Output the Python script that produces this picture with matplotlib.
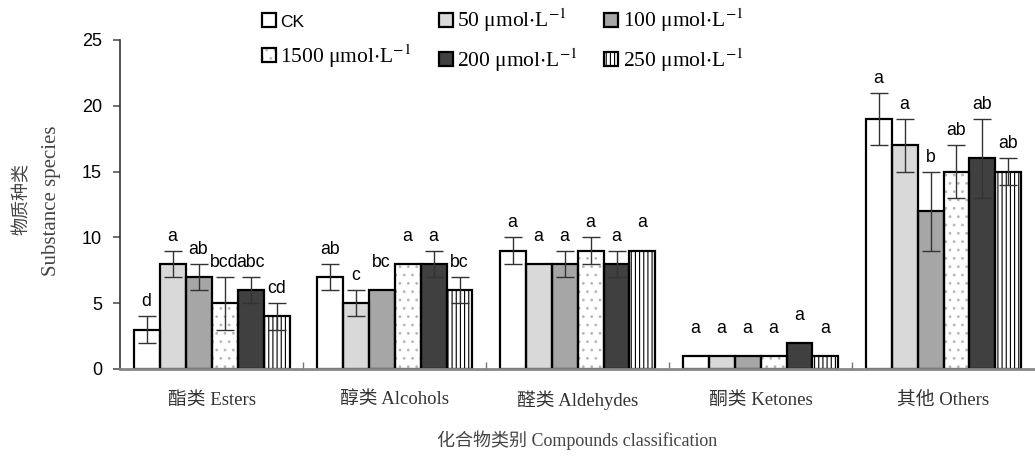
import numpy as np
import matplotlib
matplotlib.use("Agg")
import matplotlib.pyplot as plt
from matplotlib.legend_handler import HandlerTuple

plt.rcParams.update({
    "font.family": ["Liberation Serif", "Noto Sans CJK SC"],
    "mathtext.fontset": "stix",
    "hatch.linewidth": 0.8,
})

# data
categories = ["酯类 Esters", "醇类 Alcohols", "醛类 Aldehydes", "酮类 Ketones", "其他 Others"]
treatments = ["CK", "50 μmol$\\cdot$L$^{-1}$", "100 μmol$\\cdot$L$^{-1}$",
              "1500 μmol$\\cdot$L$^{-1}$", "200 μmol$\\cdot$L$^{-1}$", "250 μmol$\\cdot$L$^{-1}$"]

ck = [3, 7, 9, 1, 19]
t50 = [8, 5, 8, 1, 17]
t100 = [7, 6, 8, 1, 12]
t1500 = [5, 8, 9, 1, 15]
t200 = [6, 8, 8, 2, 16]
t250 = [4, 6, 9, 1, 15]

ck_err = [1, 1, 1, 0, 2]
t50_err = [1, 1, 0, 0, 2]
t100_err = [1, 0, 1, 0, 3]
t1500_err = [2, 0, 1, 0, 2]
t200_err = [1, 1, 1, 0, 3]
t250_err = [1, 1, 0, 0, 1]

ck_sig = ["d", "ab", "a", "a", "a"]
t50_sig = ["a", "c", "a", "a", "a"]
t100_sig = ["ab", "bc", "a", "a", "b"]
t1500_sig = ["bcd", "a", "a", "a", "ab"]
t200_sig = ["abc", "a", "a", "a", "ab"]
t250_sig = ["cd", "bc", "a", "a", "ab"]

series = [ck, t50, t100, t1500, t200, t250]
errors = [ck_err, t50_err, t100_err, t1500_err, t200_err, t250_err]
letters = [ck_sig, t50_sig, t100_sig, t1500_sig, t200_sig, t250_sig]

# bar styles: fill colour, hatch, hatch colour
faces = ["white", "#d9d9d9", "#a6a6a6", "white", "#404040", "white"]
hatches = [None, None, None, "..", None, "||||"]
hatch_cols = ["none", "none", "none", "#b8b8b8", "none", "black"]

fig = plt.figure(figsize=(10.35, 4.57), dpi=100)
ax = fig.add_axes([0.116, 0.1926, 0.884, 0.7199])

x = np.arange(len(categories))
w = 0.142
handles = []
for i, (vals, errs, sig) in enumerate(zip(series, errors, letters)):
    pos = x + (i - 2.5) * w
    # fill + hatch first, black outline on top
    fill = ax.bar(pos, vals, w, color=faces[i], edgecolor=hatch_cols[i], linewidth=0,
                  hatch=hatches[i], zorder=2)
    edge = ax.bar(pos, vals, w, fill=False, edgecolor="black", linewidth=1.6, zorder=2.5)
    handles.append((fill, edge))
    errs = np.array(errs, dtype=float)
    has = errs > 0
    ax.errorbar(pos[has], np.array(vals)[has], yerr=errs[has], fmt="none",
                ecolor="#333333", elinewidth=1.0, capsize=6.5, capthick=1.0, zorder=3)
    # letters sit as if every bar carried at least a +-1 bar
    for p, v, e, s in zip(pos, vals, errs, sig):
        ax.text(p, v + max(e, 1) + 1.1, s, ha="center", va="center",
                fontfamily="Liberation Sans", fontsize=12.7, color="black")

ax.set_xlim(-0.5, 4.5)
ax.set_ylim(0, 25)
ax.set_yticks([0, 5, 10, 15, 20, 25])
ax.set_yticklabels([0, 5, 10, 15, 20, 25], fontfamily="Liberation Sans", fontsize=13)
ax.tick_params(axis="y", direction="out", length=5, color="#555555", width=1.2, pad=8)

ax.set_xticks(np.arange(0.5, 4.5, 1.0))
ax.set_xticklabels([])
ax.tick_params(axis="x", direction="in", length=5, color="#777777", width=1)

for s in ["top", "right"]:
    ax.spines[s].set_visible(False)
ax.spines["left"].set_color("#333333")
ax.spines["left"].set_linewidth(1.2)
ax.spines["bottom"].set_color("#888888")
ax.spines["bottom"].set_linewidth(2)

for xi, c in zip(x, categories):
    ax.text(xi, -2.35, c, ha="center", va="center", fontsize=13.5, color="#333333")

fig.text(0.558, 0.037, "化合物类别 Compounds classification", ha="center", va="center",
         fontsize=13, color="#444444")
fig.text(0.021, 0.565, "物质种类", ha="center", va="center",
         rotation=90, fontsize=13, color="#444444")
fig.text(0.050, 0.56, "Substance species", ha="center", va="center",
         rotation=90, fontsize=15, color="#444444")

# legend: three columns, two rows
order = [0, 3, 1, 4, 2, 5]
leg = fig.legend([handles[k] for k in order], [treatments[k] for k in order],
                 handler_map={tuple: HandlerTuple(ndivide=1, pad=0)},
                 ncol=3, loc="upper left", bbox_to_anchor=(0.245, 1.004), frameon=False,
                 fontsize=15.5, handlelength=0.65, handleheight=0.65, handletextpad=0.2,
                 columnspacing=1.25, labelspacing=0.55, borderaxespad=0)
for t in leg.get_texts():
    if t.get_text() == "CK":
        t.set_fontfamily("Liberation Sans")
        t.set_fontsize(12.5)

fig.savefig("out.png", dpi=100)
